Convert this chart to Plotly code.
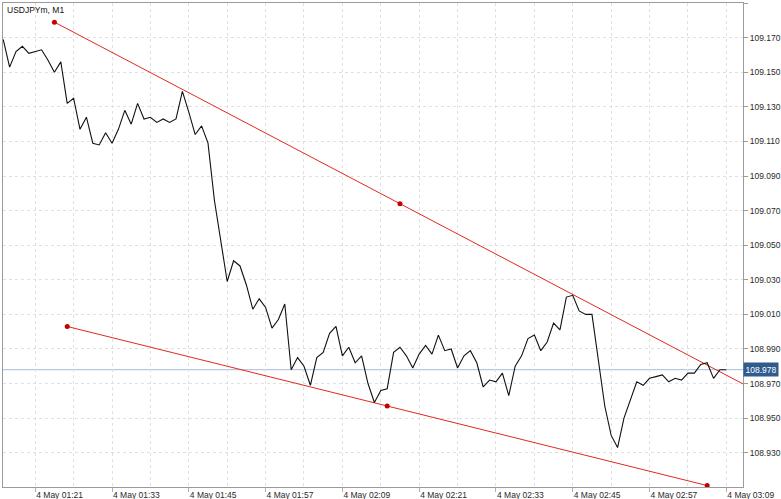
import numpy as np
import pandas as pd
import plotly.graph_objects as go

# ---------------- data ----------------
symbol_title = "USDJPYm, M1"
start_time = "2021-05-04 01:16"

close_prices = [
    109.169, 109.153, 109.162, 109.165, 109.161, 109.162, 109.163, 109.157, 109.150, 109.156,
    109.132, 109.135, 109.117, 109.124, 109.109, 109.108, 109.115, 109.109, 109.117, 109.128,
    109.120, 109.132, 109.123, 109.124, 109.121, 109.123, 109.121, 109.123, 109.139, 109.127,
    109.114, 109.119, 109.109, 109.076, 109.053, 109.029, 109.041, 109.038, 109.027, 109.013,
    109.019, 109.014, 109.002, 109.007, 109.016, 108.978, 108.985, 108.980, 108.969, 108.985,
    108.988, 108.999, 109.003, 108.986, 108.991, 108.982, 108.986, 108.970, 108.959, 108.966,
    108.967, 108.988, 108.991, 108.986, 108.979, 108.987, 108.992, 108.987, 108.998, 108.989,
    108.990, 108.979, 108.986, 108.989, 108.982, 108.968, 108.972, 108.971, 108.976, 108.963,
    108.980, 108.986, 108.996, 108.998, 108.989, 108.994, 109.005, 109.001, 109.020, 109.021,
    109.012, 109.010, 109.010, 108.982, 108.957, 108.940, 108.933, 108.950, 108.960, 108.971,
    108.969, 108.973, 108.974, 108.975, 108.971, 108.973, 108.972, 108.976, 108.976, 108.981,
    108.982, 108.973, 108.978, 108.978,
]
times = pd.date_range(start_time, periods=len(close_prices), freq="min")
current_price = close_prices[-1]

# trend line anchors (time, price)
upper_times = ["2021-05-04 01:24", "2021-05-04 02:18"]
upper_prices = [109.179, 109.074]
lower_times = ["2021-05-04 01:26", "2021-05-04 02:16", "2021-05-04 03:06"]
lower_prices = [109.003, 108.957, 108.911]

x_range = ["2021-05-04 01:15:58", "2021-05-04 03:11:36"]
y_range = [108.91016, 109.19007]
y_tick0, y_dtick = 108.930, 0.020
x_tick0 = "2021-05-04 01:21"

# extend upper trend line as a ray to the right edge
ut = pd.to_datetime(upper_times)
slope = (upper_prices[1] - upper_prices[0]) / (ut[1] - ut[0]).total_seconds()
x_end = pd.to_datetime(x_range[1]) + pd.Timedelta(minutes=2)
ray_end_price = upper_prices[1] + slope * (x_end - ut[1]).total_seconds()

font_family = "Liberation Sans, Arial, sans-serif"
grid_color = "#e0e0e0"
red = "#e3281f"

fig = go.Figure()

fig.add_hline(y=current_price, line=dict(color="#a9bdd6", width=1), layer="below")

fig.add_trace(go.Scatter(
    x=list(ut) + [x_end], y=upper_prices + [ray_end_price],
    mode="lines", line=dict(color=red, width=1), hoverinfo="skip"))
fig.add_trace(go.Scatter(
    x=pd.to_datetime(lower_times), y=lower_prices,
    mode="lines", line=dict(color=red, width=1), hoverinfo="skip"))

fig.add_trace(go.Scatter(
    x=times, y=close_prices, mode="lines",
    line=dict(color="#111111", width=1.1)))

fig.add_trace(go.Scatter(
    x=list(ut) + list(pd.to_datetime(lower_times)),
    y=upper_prices + lower_prices,
    mode="markers", marker=dict(color="#c40000", size=5), hoverinfo="skip"))

fig.update_layout(
    width=781, height=499,
    margin=dict(l=3, r=38, t=3, b=12),
    paper_bgcolor="white", plot_bgcolor="white",
    showlegend=False,
    font=dict(family=font_family, size=8.5, color="#2a2a2a"),
)

fig.update_xaxes(
    type="date", range=x_range,
    tick0=x_tick0, dtick=12 * 60 * 1000, tickformat="%-d %b %H:%M",
    ticks="outside", ticklen=4, tickcolor="#b0b0b0",
    ticklabelposition="outside right",
    showgrid=True, gridcolor=grid_color, griddash="3px,3px", gridwidth=1,
    minor=dict(dtick=6 * 60 * 1000, tick0=x_tick0, showgrid=True,
               gridcolor=grid_color, griddash="3px,3px", ticks=""),
    showline=True, linecolor="#9b9b9b", linewidth=1, mirror=True,
    zeroline=False, automargin=False,
)
fig.update_yaxes(
    range=y_range, side="right",
    tick0=y_tick0, dtick=y_dtick, tickformat=".3f",
    ticks="outside", ticklen=4, tickcolor="#9b9b9b",
    showgrid=True, gridcolor=grid_color, griddash="3px,3px", gridwidth=1,
    showline=True, linecolor="#9b9b9b", linewidth=1, mirror=True,
    zeroline=False, automargin=False,
)

fig.add_annotation(
    text=symbol_title, xref="paper", yref="paper", x=0, y=1,
    xanchor="left", yanchor="top", xshift=2, yshift=0, showarrow=False,
    font=dict(family=font_family, size=8.5, color="#111111"))

fig.add_annotation(
    text=f"{current_price:.3f}", xref="paper", yref="y", x=1, y=current_price,
    xanchor="left", yanchor="middle", showarrow=False, xshift=0,
    bgcolor="#2f5b8e", borderpad=1.5,
    font=dict(family=font_family, size=8.5, color="white"))

fig.write_html(
    "out.html",
    config={"displayModeBar": False},
    post_script="document.body.style.margin='0';document.body.style.overflow='hidden';",
)
